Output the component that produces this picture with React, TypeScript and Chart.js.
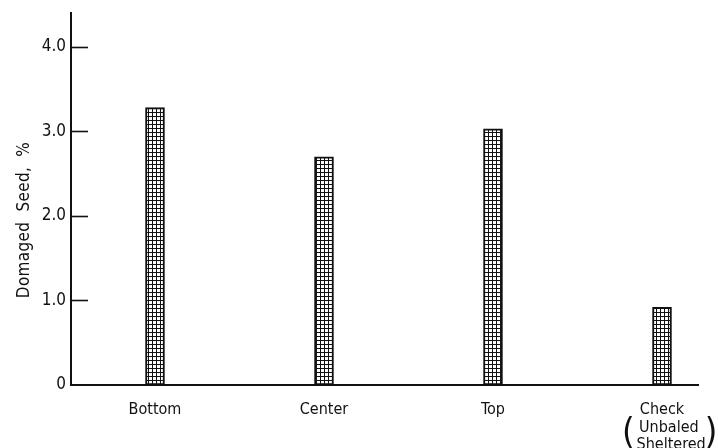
import React, { useEffect, useRef } from "react";
import { Chart, registerables } from "chart.js";

Chart.register(...registerables);

const categories = ["Bottom", "Center", "Top", "Check"];
const categoryLabels: (string | string[])[] = ["Bottom", "Center", "Top", ["Check", "   Unbaled", "    Sheltered"]];
const damagedSeed = [3.28, 2.7, 3.03, 0.92];
const yTicks = [0, 1, 2, 3, 4];
const yTickLabels = ["0", "1.0", "2.0", "3.0", "4.0"];
const yTitle = "Domaged  Seed,  %";

const INK = "#111111";
const FONT = "'Liberation Sans Narrow', 'DejaVu Sans Condensed', 'Liberation Sans', Arial, sans-serif";

function makePattern(): CanvasPattern | string {
  const c = document.createElement("canvas");
  c.width = 4;
  c.height = 4;
  const g = c.getContext("2d");
  if (!g) return INK;
  g.fillStyle = "#ffffff";
  g.fillRect(0, 0, 4, 4);
  g.fillStyle = INK;
  g.fillRect(0, 0, 4, 1);
  g.fillRect(0, 0, 1, 4);
  const p = g.createPattern(c, "repeat");
  return p || INK;
}

const decorPlugin = {
  id: "decor",
  afterDraw(chart: any) {
    const ctx = chart.ctx;
    const y = chart.scales.y;
    const x = chart.scales.x;
    const area = chart.chartArea;
    ctx.save();
    ctx.strokeStyle = INK;
    ctx.lineWidth = 1.6;
    yTicks.forEach((v) => {
      if (v === 0) return;
      const py = Math.round(y.getPixelForValue(v)) + 0.5;
      ctx.beginPath();
      ctx.moveTo(area.left, py);
      ctx.lineTo(area.left + 17, py);
      ctx.stroke();
    });
    ctx.fillStyle = INK;
    ctx.font = `17px ${FONT}`;
    (ctx as any).letterSpacing = "0.3px";
    ctx.textAlign = "center";
    ctx.textBaseline = "middle";
    ctx.translate(25, (area.top + area.bottom) / 2 + 21);
    ctx.rotate(-Math.PI / 2);
    ctx.fillText(yTitle, 0, 0);
    ctx.restore();
    // big parentheses around the last label's lower lines
    ctx.save();
    ctx.fillStyle = INK;
    const cx = x.getPixelForValue(categories.length - 1);
    ctx.font = `16px ${FONT}`;
    const lines = categoryLabels[categories.length - 1] as string[];
    const full = lines[2];
    const wFull = ctx.measureText(full).width;
    const wText = ctx.measureText(full.trim()).width;
    const right = cx + wFull / 2;
    const left = right - wText;
    ctx.font = `36px ${FONT}`;
    ctx.textBaseline = "middle";
    const py = area.bottom + 49;
    ctx.textAlign = "right";
    ctx.fillText("(", left - 2, py);
    ctx.textAlign = "left";
    ctx.fillText(")", right - 1, py);
    ctx.restore();
  },
};

export default function App() {
  const ref = useRef<HTMLCanvasElement | null>(null);
  useEffect(() => {
    if (!ref.current) return;
    const pattern = makePattern();
    const chart = new Chart(ref.current, {
      type: "bar",
      data: {
        datasets: [
          {
            data: damagedSeed.map((v, i) => ({ x: i, y: v })),
            backgroundColor: pattern as any,
            borderColor: INK,
            borderWidth: 2,
            borderSkipped: false,
            barThickness: 19,
          },
        ],
      },
      options: {
        animation: false,
        responsive: true,
        maintainAspectRatio: false,
        layout: { padding: { top: 13, right: 20, bottom: 0, left: 0 } },
        plugins: { legend: { display: false }, tooltip: { enabled: false } },
        scales: {
          x: {
            type: "linear",
            min: -0.497,
            max: 3.213,
            offset: false,
            grid: { display: false, drawTicks: false, offset: false },
            border: { display: true, color: INK, width: 2 },
            afterBuildTicks: (s: any) => {
              s.ticks = categories.map((_, i) => ({ value: i }));
            },
            afterFit: (s: any) => {
              s.height = 63;
              s.paddingLeft = 0;
              s.paddingRight = 0;
            },
            ticks: {
              autoSkip: false,
              maxRotation: 0,
              padding: 16,
              color: INK,
              font: { family: FONT, size: 16, lineHeight: 1.1 },
              callback: (v: any) => categoryLabels[v as number] ?? "",
            },
          },
          y: {
            min: 0,
            max: 4.4,
            grid: { display: false, drawTicks: false },
            border: { display: true, color: INK, width: 2 },
            afterBuildTicks: (s: any) => {
              s.ticks = yTicks.map((v) => ({ value: v }));
            },
            afterFit: (s: any) => {
              s.width = 71;
              s.paddingTop = 0;
              s.paddingBottom = 0;
            },
            ticks: {
              padding: 5,
              color: INK,
              font: { family: FONT, size: 17 },
              callback: (v: any) => yTickLabels[yTicks.indexOf(v as number)] ?? "",
            },
          },
        },
      },
      plugins: [decorPlugin],
    });
    return () => chart.destroy();
  }, []);
  return (
    <div style={{ position: "absolute", left: 0, top: 0, width: 718, height: 448, background: "#fff" }}>
      <canvas ref={ref} />
    </div>
  );
}
